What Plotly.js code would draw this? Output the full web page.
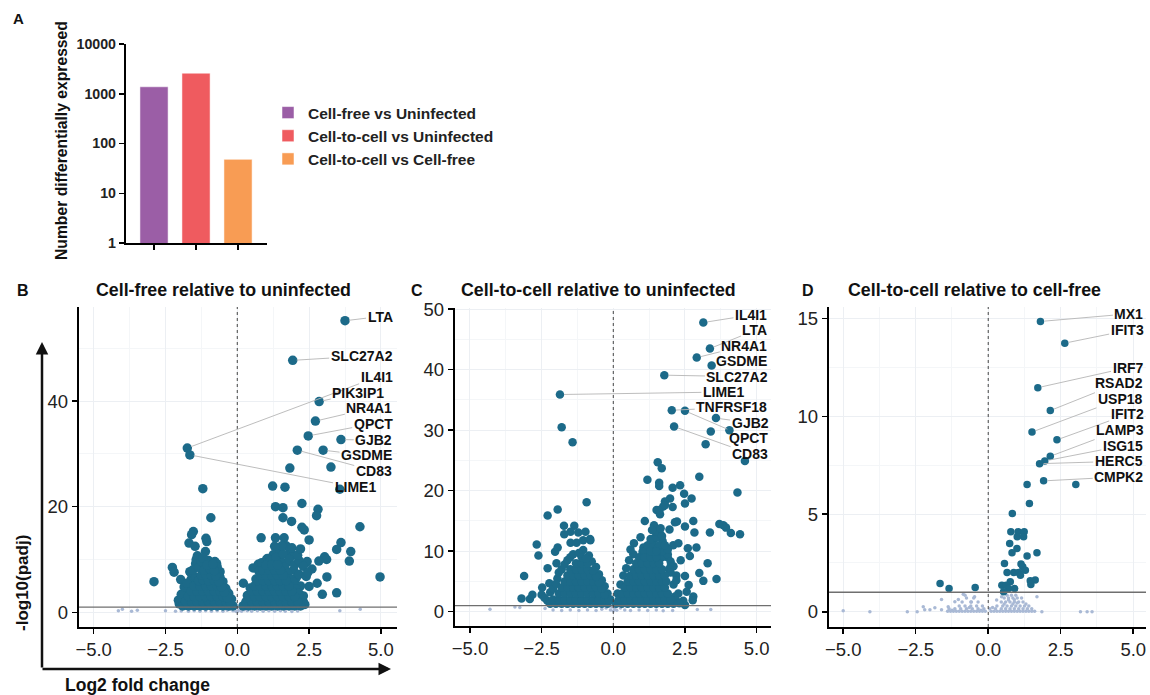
<!DOCTYPE html>
<html>
<head>
<meta charset="utf-8">
<script src="https://cdn.plot.ly/plotly-3.0.1.min.js"></script>
<style>html,body{margin:0;padding:0;background:#fff;}#chart{width:1150px;height:695px;}</style>
</head>
<body>
<div id="chart"></div>
<script>
// ---------- Panel A data ----------
const comparisons = ['Cell-free vs Uninfected', 'Cell-to-cell vs Uninfected', 'Cell-to-cell vs Cell-free'];
const numDE = [1380, 2590, 48];
const barColors = ['#9b5ea6', '#ef5b5f', '#f89c54'];
const aTickVals = [1, 10, 100, 1000, 10000];

// ---------- Panel B data (log2FC, -log10 padj) ----------
const bGenes = ['LTA', 'SLC27A2', 'IL4I1', 'PIK3IP1', 'NR4A1', 'QPCT', 'GJB2', 'GSDME', 'CD83', 'LIME1'];
const bGeneFC = [3.75, 1.93, -1.74, 2.85, 2.72, 2.47, 3.61, 2.99, 2.09, -1.65];
const bGeneP = [55.2, 47.7, 31.1, 39.9, 36.2, 33.4, 32.7, 30.7, 30.7, 29.8];
const bSig = [
  [1.83,27.3],[3.26,27.5],[3.57,23.3],[-1.2,23.4],[1.23,23.9],[1.66,23.7],[2.25,20.6],[1.33,20.0],[1.59,19.8],
  [2.81,19.5],[2.76,18.3],[1.59,17.9],[-0.92,17.9],[1.89,17.2],[2.25,16.1],[2.33,15.6],[4.27,16.2],[-1.53,15.3],
  [-1.59,14.7],[0.83,14.1],[1.33,14.1],[1.63,14.1],[2.5,13.7],[3.61,13.2],[3.46,11.9],[3.95,11.5],[3.9,9.7],
  [3.04,10.5],[3.11,10.0],[2.84,9.7],[2.43,9.6],[4.97,6.7],[3.12,6.7],[2.78,5.5],[2.5,4.9],[2.96,3.4],[3.46,3.7],
  [2.3,3.1],[2.3,2.0],[-2.9,5.8],[-2.26,8.5],[-2.2,7.6],[-1.97,6.2],[-2.02,1.6],[-1.65,7.7],[-1.61,6.2],[-1.76,4.2],
  [-1.68,13.1],[-1.47,12.5],[-1.39,10.7],[-1.43,10.0],[-1.09,14.0],[-1.06,13.4],[-1.11,11.5],[-0.78,9.6],
  [-0.6,7.7],[-0.45,4.7],[-0.75,6.3],[-1.45,9.2],[-1.63,7.6],[-0.72,9.2],[-0.62,7.5],
  [0.21,5.5],[0.73,9.1],[0.55,8.4],[1.02,10.0],[1.25,10.9],[1.48,10.0],[1.46,11.9],[1.75,9.5],[1.95,8.0],[2.05,6.5],
  [1.85,11.5],[2.15,7.2],[2.4,6.8],[2.6,8.2],[1.95,10.8],[2.0,4.0],[2.2,5.0],[1.7,12.6],
  [0.35,3.2],[0.45,4.6],[0.65,6.3],[0.75,7.8],[0.85,9.4],[1.05,10.2],[1.15,9.8],[1.35,10.4],[1.55,9.3],[1.65,8.6],
  [1.75,7.4],[1.85,6.3],[1.95,5.7],[2.05,4.4],[2.15,3.6],[2.25,2.6],[2.35,1.5],[1.6,11.0],[1.8,10.0],[2.0,9.0],
  [2.15,9.8],[2.3,8.7],[2.45,7.5],[2.1,10.8],[1.9,12.2],[1.55,12.6],[1.3,12.5],[2.2,12.0],
  [-2.05,2.3],[-1.95,3.4],[-1.85,4.8],[-1.75,5.5],[-1.45,6.7],[-1.55,8.0],[-1.35,8.5],[-1.25,9.6],[-0.7,8.6],
  [-0.6,6.6],[-0.5,5.8],[-0.4,4.5],[-0.3,3.6],[-0.2,2.5],[-1.0,9.8],[-1.2,10.3],
  // left dense cloud
  [-1.9,1.2],[-1.7,1.2],[-1.5,1.2],[-1.3,1.2],[-1.1,1.2],[-0.9,1.2],[-0.7,1.2],[-0.5,1.2],[-0.3,1.2],[-0.15,1.2],
  [-1.8,2],[-1.6,2],[-1.4,2],[-1.2,2],[-1.0,2],[-0.8,2],[-0.6,2],[-0.4,2],[-0.25,1.9],
  [-1.7,3],[-1.5,3],[-1.3,3],[-1.1,3],[-0.9,3],[-0.7,3],[-0.5,3],[-0.35,2.8],
  [-1.6,4],[-1.4,4],[-1.2,4],[-1.0,4],[-0.8,4],[-0.6,4],[-0.45,3.8],
  [-1.5,5],[-1.3,5],[-1.1,5],[-0.9,5],[-0.7,5],[-0.55,4.8],
  [-1.35,6],[-1.2,6.2],[-1.0,6],[-0.8,6],[-0.65,5.8],
  [-1.25,7],[-1.1,7.2],[-0.9,7],[-0.75,6.9],
  [-1.15,8],[-0.95,8.2],[-0.8,7.9],[-1.05,9],[-0.85,9.1],
  // right dense cloud
  [0.2,1.2],[0.4,1.2],[0.6,1.2],[0.8,1.2],[1.0,1.2],[1.2,1.2],[1.4,1.2],[1.6,1.2],[1.8,1.2],[2.0,1.2],[2.2,1.2],
  [0.3,2],[0.5,2],[0.7,2],[0.9,2],[1.1,2],[1.3,2],[1.5,2],[1.7,2],[1.9,2],[2.1,2],
  [0.4,3],[0.6,3],[0.8,3],[1.0,3],[1.2,3],[1.4,3],[1.6,3],[1.8,3],[2.0,3],
  [0.5,4],[0.7,4],[0.9,4],[1.1,4],[1.3,4],[1.5,4],[1.7,4],[1.9,4],
  [0.6,5],[0.8,5],[1.0,5],[1.2,5],[1.4,5],[1.6,5],[1.8,5],
  [0.7,6],[0.9,6],[1.1,6],[1.3,6],[1.5,6],[1.7,6],
  [0.8,7],[1.0,7],[1.2,7],[1.4,7],[1.6,7],
  [0.9,8],[1.1,8],[1.3,8],[1.5,8],[1.0,9],[1.2,9],[1.4,9]
];
const bNon = [
  [-4.14,0.3],[-4.0,0.6],[-3.68,0.2],[-3.48,0.4],[-2.5,0.3],[-2.15,0.2],[-1.95,0.25],[-1.7,0.2],[-1.5,0.3],
  [-1.3,0.2],[-1.1,0.3],[-0.9,0.2],[-0.7,0.3],[-0.5,0.2],[-0.35,0.4],[-0.25,0.6],[-0.15,0.3],[-0.08,0.8],
  [-0.05,0.2],[0.0,0.1],[0.05,0.4],[0.1,0.7],[0.15,0.2],[0.25,0.5],[0.35,0.3],[0.5,0.2],[0.7,0.3],[0.9,0.2],
  [1.1,0.3],[1.3,0.2],[1.5,0.3],[1.67,0.2],[1.9,0.15],[2.1,0.25],[3.57,0.3],[4.28,0.6]
];

// ---------- Panel C data ----------
const cGenes = ['IL4I1', 'LTA', 'NR4A1', 'GSDME', 'SLC27A2', 'LIME1', 'TNFRSF18', 'GJB2', 'QPCT', 'CD83'];
const cGeneFC = [3.14, 3.37, 2.91, 3.43, 1.78, -1.86, 2.04, 3.58, 2.5, 2.12];
const cGeneP = [47.8, 43.5, 42.0, 40.7, 39.1, 35.9, 33.3, 32.0, 33.2, 30.6];
const cSig = [
  [3.4,29.8],[4.05,30.0],[3.22,27.7],[4.59,24.9],[-1.8,30.5],[-1.42,28.0],
  [1.55,24.7],[1.69,23.7],[3.0,22.3],[1.19,21.8],[1.6,21.3],[1.6,20.8],[2.33,20.9],[2.07,20.5],[4.33,19.7],
  [2.47,19.5],[2.73,18.7],[2.5,17.9],[-0.93,18.1],[-1.94,16.9],[-2.29,15.9],[1.98,18.7],[1.8,18.2],[1.74,17.4],
  [1.51,16.8],[1.63,16.1],[2.07,17.3],[1.1,15.0],[2.15,14.8],[2.79,15.0],[3.7,14.5],[3.84,14.3],[3.93,13.9],
  [4.1,13.0],[4.42,12.8],[3.37,13.1],[2.83,13.1],[2.5,14.1],[-1.72,14.2],[-1.36,14.2],[-1.71,12.8],[-1.49,13.2],
  [-1.22,13.1],[-0.97,13.2],[-0.81,12.0],[-1.49,11.4],[-1.28,11.4],[-1.05,11.8],[-0.8,11.8],[-2.67,11.1],
  [-2.61,9.3],[-2.03,9.9],[-1.94,10.6],[-1.05,10.2],[-2.29,7.2],[-1.98,8.0],[-3.11,5.9],[-3.2,2.2],[-2.91,2.1],
  [-2.82,2.8],[-2.48,4.0],[-2.23,4.7],[-1.95,5.5],[-2.5,2.8],
  [0.72,11.3],[0.7,9.5],[1.05,10.6],[1.45,12.1],[1.72,11.7],[2.09,11.0],[2.27,11.3],[2.6,10.5],[2.9,10.6],
  [2.67,9.2],[3.29,8.0],[3.0,6.4],[3.14,5.1],[3.6,5.4],[2.5,5.9],[2.63,4.4],[2.56,3.3],[2.79,2.5],[2.77,1.9],
  [2.15,1.7],[2.5,1.1],[2.44,1.8],[2.27,3.0],[1.02,9.9],[1.42,14.3],[1.63,12.9],[1.96,13.6],[2.22,14.9],
  [1.61,16.8],[1.8,17.6],[1.9,9.0],[2.0,7.5],[2.2,6.0],[2.35,8.5],[1.85,10.5],[2.1,4.5],
  [0.9,9],[1.7,9],[1.9,9.5],[1.1,10],[1.7,10],[1.9,10.3],[1.2,11],[1.4,11],[1.6,11],[1.8,11],[1.3,12],[1.5,12.3],
  [1.7,12.5],[1.45,13.3],[1.65,13.8],[1.35,13.5],[0.95,12.3],[0.6,10.3],[0.55,8.5],[0.45,7.2],[0.35,6],[0.25,4.5],
  [0.15,3.0],[2.0,8.3],[2.1,7.5],[2.2,5.2],[1.95,7],[2.0,6.5],[2.15,2.5],[2.2,1.8],[2.3,1.4],
  [-2.3,1.8],[-2.4,2.3],[-2.2,3.2],[-2.1,3.8],[-2.0,4.6],[-1.9,6.5],[-1.8,7.0],[-1.7,7.8],[-1.6,8.5],[-1.5,9.0],
  [-1.4,9.5],[-1.2,9.7],[-0.85,9.3],[-0.75,8.3],[-0.6,7.4],[-0.5,6.2],[-0.4,5.2],[-0.3,4.2],[-0.2,3.0],[-0.1,2.0],
  // left dense cloud
  [-2.2,1.3],[-2.0,1.3],[-1.8,1.3],[-1.6,1.3],[-1.4,1.3],[-1.2,1.3],[-1.0,1.3],[-0.8,1.3],[-0.6,1.3],[-0.4,1.3],[-0.2,1.3],
  [-2.1,2],[-1.9,2],[-1.7,2],[-1.5,2],[-1.3,2],[-1.1,2],[-0.9,2],[-0.7,2],[-0.5,2],[-0.3,2],[-0.15,1.9],
  [-1.9,3],[-1.7,3],[-1.5,3],[-1.3,3],[-1.1,3],[-0.9,3],[-0.7,3],[-0.5,3],[-0.3,2.8],
  [-1.8,4],[-1.6,4],[-1.4,4],[-1.2,4],[-1.0,4],[-0.8,4],[-0.6,4],[-0.4,3.8],
  [-1.7,5],[-1.5,5],[-1.3,5],[-1.1,5],[-0.9,5],[-0.7,5],[-0.5,4.8],
  [-1.6,6],[-1.4,6],[-1.2,6],[-1.0,6],[-0.8,6],[-0.6,5.8],
  [-1.5,7],[-1.3,7],[-1.1,7],[-0.9,7],[-0.7,6.8],
  [-1.3,8],[-1.1,8],[-0.9,8],[-1.1,9],[-0.95,8.8],
  // right dense cloud
  [0.1,1.3],[0.3,1.3],[0.5,1.3],[0.7,1.3],[0.9,1.3],[1.1,1.3],[1.3,1.3],[1.5,1.3],[1.7,1.3],[1.9,1.3],[2.1,1.3],
  [0.2,2],[0.4,2],[0.6,2],[0.8,2],[1.0,2],[1.2,2],[1.4,2],[1.6,2],[1.8,2],[2.0,2],
  [0.3,3],[0.5,3],[0.7,3],[0.9,3],[1.1,3],[1.3,3],[1.5,3],[1.7,3],[1.9,3],
  [0.4,4],[0.6,4],[0.8,4],[1.0,4],[1.2,4],[1.4,4],[1.6,4],[1.8,4],
  [0.5,5],[0.7,5],[0.9,5],[1.1,5],[1.3,5],[1.5,5],[1.7,5],[1.85,5],
  [0.6,6],[0.8,6],[1.0,6],[1.2,6],[1.4,6],[1.6,6],[1.8,6],
  [0.7,7],[0.9,7],[1.1,7],[1.3,7],[1.5,7],[1.7,7],
  [0.8,8],[1.0,8],[1.2,8],[1.4,8],[1.6,8],
  [1.1,9],[1.3,9],[1.5,9],[1.3,10],[1.5,10]
];
const cNon = [
  [-4.3,0.39],[-3.43,0.8],[-3.26,0.7],[-2.38,0.55],[-2.1,0.3],[-1.8,0.2],[-1.5,0.3],[-1.2,0.2],[-0.9,0.3],
  [-0.6,0.2],[-0.4,0.4],[-0.25,0.6],[-0.1,0.3],[-0.05,0.8],[0.0,0.1],[0.05,0.5],[0.12,0.25],[0.25,0.6],[0.4,0.3],
  [0.6,0.2],[0.9,0.3],[1.2,0.2],[1.5,0.3],[1.74,0.17],[2.07,0.2],[2.93,0.35],[3.4,0.35]
];

// ---------- Panel D data ----------
const dGenes = ['MX1', 'IFIT3', 'IRF7', 'RSAD2', 'USP18', 'IFIT2', 'LAMP3', 'ISG15', 'HERC5', 'CMPK2'];
const dGeneFC = [1.8, 2.64, 1.71, 2.14, 1.51, 2.37, 2.14, 1.95, 1.77, 1.91];
const dGeneP = [14.86, 13.75, 11.47, 10.3, 9.2, 8.8, 7.96, 7.72, 7.58, 6.7];
const dSig = [
  [3.02,6.51],[1.34,6.51],[1.42,5.54],[0.83,5.03],[0.78,4.09],[1.03,4.09],[1.24,4.09],[1.0,3.84],[1.22,3.84],
  [0.74,3.49],[0.99,3.24],[0.82,3.02],[1.68,3.02],[1.34,2.85],[0.56,2.47],[1.13,2.44],[1.19,2.3],[0.65,2.01],
  [0.88,2.01],[1.05,2.01],[1.28,2.13],[1.11,1.87],[1.45,1.59],[1.62,1.62],[1.47,1.4],[0.76,1.53],[0.47,1.36],
  [0.62,1.36],[0.7,1.19],[0.91,1.19],[0.53,1.02],[-1.66,1.45],[-1.35,1.19],[-0.45,1.24]
];
const dNon = [
  [-5.0,0.05],[-4.08,0.0],[-2.79,0.0],[-2.45,0.0],[-2.24,0.26],[-2.19,0.1],[-2.01,0.1],[-1.84,0.2],[-1.61,0.63],
  [-1.61,0.1],[-1.38,0.26],[-1.15,0.51],[-1.03,0.63],[-0.86,0.89],[-0.58,0.5],[-0.47,0.77],[0.29,0.6],[0.46,0.77],
  [1.68,0.77],[1.85,0.0],[3.18,0.0],[3.41,0.0],[3.58,0.0],
  [-1.4,0.03],[-1.3,0.03],[-1.2,0.03],[-1.1,0.03],[-1.0,0.03],[-0.9,0.03],[-0.8,0.03],[-0.7,0.03],[-0.6,0.03],
  [-0.5,0.03],[-0.4,0.03],[-0.3,0.03],[-0.2,0.03],[-0.1,0.03],[0.1,0.03],[0.2,0.03],[0.3,0.03],[0.4,0.03],
  [0.5,0.03],[0.6,0.03],[0.7,0.03],[0.8,0.03],[0.9,0.03],[1.0,0.03],[1.1,0.03],[1.2,0.03],[1.3,0.03],[1.4,0.03],
  [1.5,0.03],[1.6,0.03],
  [-1.35,0.15],[-1.15,0.15],[-0.95,0.15],[-0.75,0.15],[-0.55,0.15],[-0.35,0.15],[-0.15,0.15],[0.05,0.15],
  [0.25,0.15],[0.45,0.15],[0.6,0.15],[0.75,0.15],[0.9,0.15],[1.05,0.15],[1.2,0.15],[1.35,0.15],[1.5,0.15],
  [-1.0,0.3],[-0.8,0.3],[-0.6,0.3],[-0.4,0.3],[-0.2,0.3],[0.3,0.3],[0.5,0.3],[0.65,0.3],[0.8,0.3],[0.95,0.3],
  [1.1,0.3],[1.25,0.3],[1.4,0.3],
  [-0.9,0.5],[-0.6,0.5],[-0.35,0.5],[0.45,0.5],[0.6,0.5],[0.75,0.5],[0.9,0.5],[1.05,0.5],[1.2,0.5],
  [-0.75,0.7],[-0.5,0.7],[0.55,0.7],[0.7,0.7],[0.85,0.7],[1.0,0.7],[1.15,0.7],
  [-0.8,0.85],[0.65,0.85],[0.8,0.85],[0.95,0.85],
  [-1.25,0.08],[-0.65,0.22],[-0.25,0.08],[0.15,0.22],[0.55,0.4],[0.7,0.6],[0.85,0.4],[1.0,0.45],[1.3,0.4],[0.9,0.62]
];

// ---------- label text positions (layout only) ----------
const bLabPos = [[4.97,56],[4.33,48.5],[4.85,44.5],[4.21,41.5],[4.6,38.6],[4.73,35.7],[4.75,32.6],[4.5,29.7],[4.75,26.8],[4.1,23.7]];
const cLabPos = [[4.8,49.04],[4.94,46.5],[4.57,43.95],[4.48,41.4],[4.33,38.86],[3.84,36.31],[4.13,33.77],[4.77,31.22],[4.71,28.68],[4.77,26.13]];
const dLabPos = [[4.85,15.25],[4.79,14.4],[4.82,12.5],[4.5,11.7],[4.56,10.9],[4.79,10.1],[4.54,9.3],[4.64,8.5],[4.5,7.7],[4.5,6.9]];

const padjLine = 1; // -log10(0.1)

// ---------- styles ----------
const FONT = 'Liberation Sans, Arial, Helvetica, sans-serif';
const SIG = '#1c6a89';
const NON = '#a9b9d5';
const W = 1150, H = 695;
const px = v => v / W;
const py = v => (H - v) / H;

const traces = [];
comparisons.forEach((c, i) => {
  traces.push({
    type: 'bar', x: [i], y: [numDE[i]], name: '<b>' + c + '</b>', width: 0.67,
    marker: {color: barColors[i], line: {color: 'rgba(255,255,255,0.5)', width: 1}},
    xaxis: 'x', yaxis: 'y', hoverinfo: 'y'
  });
});

function volcano(non, sig, gFC, gP, ax, size) {
  traces.push({type: 'scatter', mode: 'markers', x: non.map(p => p[0]), y: non.map(p => p[1]),
    marker: {color: NON, size: 3.5}, xaxis: 'x' + ax, yaxis: 'y' + ax, showlegend: false});
  traces.push({type: 'scatter', mode: 'markers', x: sig.map(p => p[0]), y: sig.map(p => p[1]),
    marker: {color: SIG, size: size}, xaxis: 'x' + ax, yaxis: 'y' + ax, showlegend: false});
  traces.push({type: 'scatter', mode: 'markers', x: gFC, y: gP,
    marker: {color: SIG, size: size}, xaxis: 'x' + ax, yaxis: 'y' + ax, showlegend: false});
}
volcano(bNon, bSig, bGeneFC, bGeneP, 2, 9.5);
volcano(cNon, cSig, cGeneFC, cGeneP, 3, 8.5);
volcano(dNon, dSig, dGeneFC, dGeneP, 4, 7.5);

function vx(domain, anchor) {
  return {
    domain: domain, anchor: anchor, range: [-5.5, 5.55], tick0: 0, dtick: 2.5, tickformat: '.1f',
    showline: true, linecolor: '#000', linewidth: 2.2, ticks: 'outside', ticklen: 5, tickwidth: 1.5, tickcolor: '#000',
    tickfont: {family: FONT, size: 18.5, color: '#222'}, showgrid: true, gridcolor: '#eceff3', gridwidth: 1,
    minor: {dtick: 1.25, showgrid: true, gridcolor: '#f4f6f8', gridwidth: 1}, zeroline: false, fixedrange: true
  };
}
function vy(domain, anchor, range, dtick) {
  return {
    domain: domain, anchor: anchor, range: range, tick0: 0, dtick: dtick,
    showline: true, linecolor: '#000', linewidth: 2.2, ticks: 'outside', ticklen: 5, tickwidth: 1.5, tickcolor: '#000',
    tickfont: {family: FONT, size: 18.5, color: '#222'}, showgrid: true, gridcolor: '#eceff3', gridwidth: 1,
    minor: {dtick: dtick / 2, showgrid: true, gridcolor: '#f4f6f8', gridwidth: 1}, zeroline: false, fixedrange: true
  };
}

const layout = {
  width: W, height: H, margin: {l: 0, r: 0, t: 0, b: 0}, paper_bgcolor: '#fff', plot_bgcolor: 'rgba(0,0,0,0)',
  barmode: 'overlay', showlegend: true, hovermode: 'closest',
  font: {family: FONT, color: '#000'},
  legend: {x: px(268), y: py(96), xanchor: 'left', yanchor: 'top', font: {family: FONT, size: 15.5, color: '#222'},
    bgcolor: 'rgba(0,0,0,0)', itemclick: false, itemdoubleclick: false},
  xaxis: {domain: [px(126), px(267)], anchor: 'y', range: [-0.667, 2.69], tickvals: [0, 1, 2], showticklabels: false,
    showline: true, linecolor: '#000', linewidth: 2.2, ticks: 'outside', ticklen: 5, tickwidth: 1.5, tickcolor: '#000',
    showgrid: false, zeroline: false, fixedrange: true},
  yaxis: {domain: [py(243), py(44)], anchor: 'x', type: 'log', range: [0, 4], tickvals: aTickVals,
    ticktext: aTickVals.map(String), showline: true, linecolor: '#000', linewidth: 2.2, ticks: 'outside', ticklen: 5,
    tickwidth: 1.5, tickcolor: '#000', tickfont: {family: FONT, size: 14.2, color: '#222', weight: 'bold'},
    showgrid: false, zeroline: false, fixedrange: true},
  xaxis2: Object.assign(vx([px(79), px(397)], 'y2'), {range: [-5.51, 5.56]}),
  yaxis2: vy([py(627), py(307)], 'x2', [-2.78, 57.8], 20),
  xaxis3: Object.assign(vx([px(455), px(771)], 'y3'), {range: [-5.52, 5.5]}),
  yaxis3: vy([py(626), py(308)], 'x3', [-2.36, 50.2], 10),
  xaxis4: Object.assign(vx([px(829), px(1146)], 'y4'), {range: [-5.49, 5.44]}),
  yaxis4: vy([py(627), py(307)], 'x4', [-0.78, 15.6], 5),
  shapes: [],
  annotations: []
};

[2, 3, 4].forEach(a => {
  layout.shapes.push({type: 'line', xref: 'x' + a + ' domain', yref: 'y' + a, x0: 0, x1: 1, y0: padjLine, y1: padjLine,
    line: {color: '#6f6f6f', width: 1.3}, layer: 'above'});
  layout.shapes.push({type: 'line', xref: 'x' + a, yref: 'y' + a + ' domain', x0: 0, x1: 0, y0: 0, y1: 1,
    line: {color: '#444', width: 1, dash: 'dot'}, layer: 'above'});
});

const ann = layout.annotations;
function txt(x, y, t, size, opts) {
  ann.push(Object.assign({xref: 'paper', yref: 'paper', x: px(x), y: py(y), text: t, showarrow: false,
    font: {family: FONT, size: size, color: '#111'}, xanchor: 'center', yanchor: 'middle'}, opts || {}));
}
txt(18, 18, '<b>A</b>', 15);
txt(23, 290, '<b>B</b>', 16);
txt(417, 290, '<b>C</b>', 16);
txt(808, 290, '<b>D</b>', 16);
txt(223, 290, '<b>Cell-free relative to uninfected</b>', 17.8);
txt(599, 290, '<b>Cell-to-cell relative to uninfected</b>', 17.8);
txt(974, 290, '<b>Cell-to-cell relative to cell-free</b>', 17.8);
txt(61, 141, '<b>Number differentially expressed</b>', 15.7, {textangle: -90});
txt(22, 583, '<b>-log10(padj)</b>', 17, {textangle: -90});
txt(137, 685, '<b>Log2 fold change</b>', 17.5);

// big axis arrows
ann.push({xref: 'paper', yref: 'paper', x: px(42), y: py(342), ax: 0, ay: 327, axref: 'pixel', ayref: 'pixel',
  text: '', showarrow: true, arrowhead: 2, arrowsize: 1, arrowwidth: 2.5, arrowcolor: '#111'});
ann.push({xref: 'paper', yref: 'paper', x: px(391), y: py(669), ax: -350, ay: 0, axref: 'pixel', ayref: 'pixel',
  text: '', showarrow: true, arrowhead: 2, arrowsize: 1, arrowwidth: 2.5, arrowcolor: '#111'});

function geneLabels(genes, fc, p, pos, a) {
  genes.forEach((g, i) => {
    ann.push({xref: 'x' + a, yref: 'y' + a, axref: 'x' + a, ayref: 'y' + a, x: fc[i], y: p[i],
      ax: pos[i][0], ay: pos[i][1], text: '<b>' + g + '</b>', showarrow: true, arrowhead: 0, arrowwidth: 0.9,
      arrowcolor: '#b5b5b5', standoff: 4, font: {family: FONT, size: 14, color: '#111'}});
  });
}
geneLabels(bGenes, bGeneFC, bGeneP, bLabPos, 2);
geneLabels(cGenes, cGeneFC, cGeneP, cLabPos, 3);
geneLabels(dGenes, dGeneFC, dGeneP, dLabPos, 4);

Plotly.newPlot('chart', traces, layout, {displayModeBar: false, staticPlot: true});
</script>
</body>
</html>
